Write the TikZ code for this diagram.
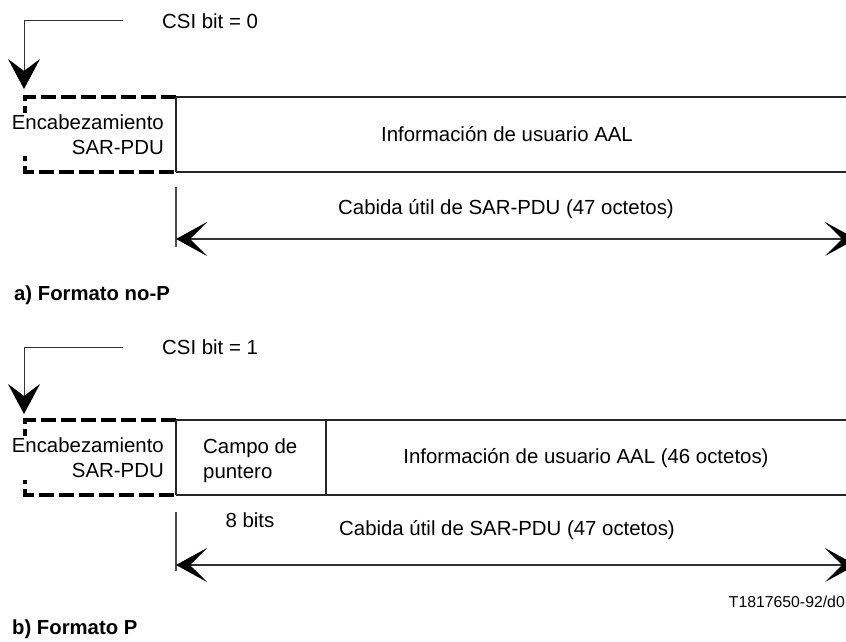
\documentclass[tikz,border=0pt]{standalone}
\usepackage{fontspec}
\setmainfont{Liberation Sans}
\usetikzlibrary{arrows.meta}
\begin{document}
\begin{tikzpicture}[x=1pt,y=-1pt,
  txt/.style={inner sep=0pt, font=\fontsize{20.4}{25}\selectfont},
  lbl/.style={inner sep=0pt, anchor=west, font=\fontsize{20.3}{24}\selectfont\bfseries},
  frame/.style={line width=1.3pt, draw=black!85},
  hdrdash/.style={line width=3.3pt, dash pattern=on 15pt off 5pt},
  pointer/.style={line width=1pt, draw=black!80,
    -{Stealth[length=30pt,width=32pt,inset=12pt,fill=black,color=black]}},
  span/.style={line width=1.3pt, draw=black!80,
    {Stealth[length=31pt,width=34pt,inset=17pt,fill=black,color=black]}-{Stealth[length=31pt,width=34pt,inset=17pt,fill=black,color=black]}},
  tick/.style={line width=1.3pt, draw=black!70}]
\useasboundingbox (0,0) rectangle (846,642);
\clip (0,0) rectangle (846,642);

% ---------- a) format without pointer ----------
\node[txt, anchor=west] (csiA) at (162,21) {CSI bit = 0};
\coordinate (csiAfrom) at (123,21);
\coordinate (hdrAtop) at (24,89);
\draw[pointer] (csiAfrom) -| (hdrAtop);

\coordinate (hA1) at (176,97);
\coordinate (hA2) at (25,97);
\coordinate (hA3) at (25,172);
\coordinate (hA4) at (176,172);
\draw[hdrdash] (hA1) -- (hA2) -- (hA3) -- (hA4);
\draw[frame] (hA1) -- (846,97);
\draw[frame] (hA4) -- (846,172);
\draw[frame] (hA1) -- (hA4);
\node[txt, anchor=east, align=right, fill=white, inner ysep=2pt] (hdrA) at (164,134.5) {Encabezamiento\\SAR-PDU};
\node[txt] (infoA) at (507,134) {Información de usuario AAL};

\coordinate (tickAtop) at (176,187);
\coordinate (tickAbot) at (176,247);
\draw[tick] (tickAtop) -- (tickAbot);
\node[txt] (payA) at (506,209) {Cabida útil de SAR-PDU (47 octetos)};
\coordinate (spanAl) at (176,239);
\coordinate (spanAr) at (856,239);
\draw[span] (spanAl) -- (spanAr);

\node[lbl] (labA) at (14,295) {a) Formato no-P};

% ---------- b) format with pointer ----------
\node[txt, anchor=west] (csiB) at (162,347) {CSI bit = 1};
\coordinate (csiBfrom) at (123,347);
\coordinate (hdrBtop) at (24,414);
\draw[pointer] (csiBfrom) -| (hdrBtop);

\coordinate (hB1) at (176,420);
\coordinate (hB2) at (25,420);
\coordinate (hB3) at (25,495);
\coordinate (hB4) at (176,495);
\draw[hdrdash] (hB1) -- (hB2) -- (hB3) -- (hB4);
\draw[frame] (hB1) -- (846,420);
\draw[frame] (hB4) -- (846,495);
\draw[frame] (hB1) -- (hB4);
\draw[frame] (326,420) -- (326,495);
\node[txt, anchor=east, align=right, fill=white, inner ysep=2pt] (hdrB) at (164,458) {Encabezamiento\\SAR-PDU};
\node[txt, anchor=west, align=left] (ptrB) at (203,460.5) {Campo de\\puntero};
\node[txt] (infoB) at (586,458) {Información de usuario AAL (46 octetos)};

\coordinate (tickBtop) at (176,512);
\coordinate (tickBbot) at (176,571);
\draw[tick] (tickBtop) -- (tickBbot);
\node[txt] (bitsB) at (250,520) {8 bits};
\node[txt] (payB) at (507,530) {Cabida útil de SAR-PDU (47 octetos)};
\coordinate (spanBl) at (176,565);
\coordinate (spanBr) at (856,565);
\draw[span] (spanBl) -- (spanBr);

\node[txt, anchor=east, font=\fontsize{15.8}{19}\selectfont] (ref) at (845,602) {T1817650-92/d0};
\node[lbl] (labB) at (12,629) {b) Formato P};
\end{tikzpicture}
\end{document}
